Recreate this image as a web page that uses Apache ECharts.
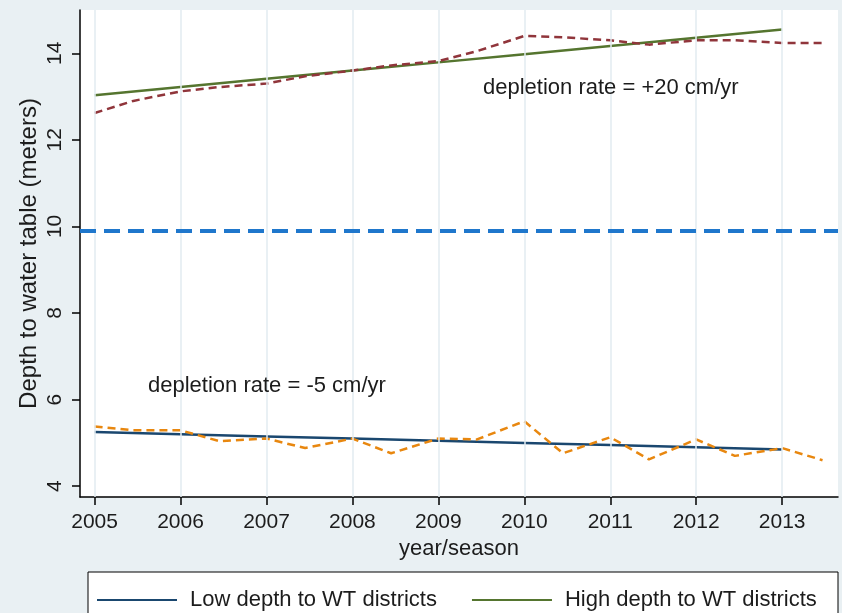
<!DOCTYPE html>
<html>
<head>
<meta charset="utf-8">
<script src="https://cdn.jsdelivr.net/npm/echarts@6/dist/echarts.min.js"></script>
<style>
  html, body { margin: 0; padding: 0; background: #e9f0f3; }
  #chart { width: 842px; height: 613px; }
</style>
</head>
<body>
<div id="chart"></div>
<script>
// Tick positions on the two axes
const yearTicks = [2005, 2006, 2007, 2008, 2009, 2010, 2011, 2012, 2013];
const depthTicks = [4, 6, 8, 10, 12, 14];

// Seasonal observations (two seasons per year)
const seasons = [2005, 2005.45, 2006, 2006.45, 2007, 2007.45, 2008, 2008.45, 2009, 2009.45,
                 2010, 2010.45, 2011, 2011.45, 2012, 2012.45, 2013, 2013.47];
const highDepthSeasonal = [12.62, 12.90, 13.12, 13.22, 13.30, 13.47, 13.60, 13.72, 13.82, 14.05,
                           14.40, 14.37, 14.30, 14.20, 14.30, 14.30, 14.24, 14.24];
const lowDepthSeasonal = [5.38, 5.29, 5.29, 5.04, 5.10, 4.88, 5.10, 4.76, 5.10, 5.08,
                          5.50, 4.76, 5.13, 4.62, 5.08, 4.70, 4.88, 4.60];

// Fitted trends, one value per year
const highDepthTrend = [13.03, 13.22, 13.41, 13.60, 13.79, 13.98, 14.17, 14.36, 14.55];
const lowDepthTrend = [5.25, 5.20, 5.15, 5.10, 5.05, 5.00, 4.95, 4.90, 4.85];

// Threshold separating low and high depth districts (meters)
const thresholdDepth = [9.9];

const seriesNames = ['Low depth to WT districts', 'High depth to WT districts'];
const notes = ['depletion rate = +20 cm/yr', 'depletion rate = -5 cm/yr'];

const pair = (xs, ys) => xs.map((x, i) => [x, ys[i]]);
const FONT = '"Liberation Sans", Arial, sans-serif';
const TEXT = '#1c1c1c';

const chart = echarts.init(document.getElementById('chart'), null, { renderer: 'canvas' });

chart.setOption({
  backgroundColor: '#e9f0f3',
  animation: false,
  textStyle: { fontFamily: FONT },
  grid: { left: 80, right: 4, top: 10, bottom: 116, backgroundColor: '#ffffff', show: true, borderWidth: 0 },
  xAxis: {
    type: 'value',
    min: 2004.83, max: 2013.65,
    name: 'year/season',
    nameLocation: 'middle',
    nameGap: 41,
    nameMoveOverlap: false,
    nameTextStyle: { fontSize: 22, color: TEXT, fontFamily: FONT },
    axisLine: { show: true, lineStyle: { color: '#000', width: 1.5 } },
    axisTick: { show: true, length: 8, customValues: yearTicks, lineStyle: { color: '#000', width: 1.5 } },
    axisLabel: { customValues: yearTicks, margin: 15, fontSize: 21, color: TEXT, fontFamily: FONT, formatter: v => String(v) },
    splitLine: { show: false }
  },
  yAxis: {
    type: 'value',
    min: 3.75, max: 15,
    name: 'Depth to water table (meters)',
    nameLocation: 'middle',
    nameRotate: 90,
    nameGap: 39,
    nameMoveOverlap: false,
    nameTextStyle: { fontSize: 24, color: TEXT, fontFamily: FONT },
    axisLine: { show: true, lineStyle: { color: '#000', width: 1.5 } },
    axisTick: { show: true, length: 8, customValues: depthTicks, lineStyle: { color: '#000', width: 1.5 } },
    axisLabel: { customValues: depthTicks, rotate: 90, margin: 14, fontSize: 21, color: TEXT, fontFamily: FONT },
    splitLine: { show: false }
  },
  legend: {
    data: seriesNames,
    left: 92,
    top: 584,
    icon: 'rect',
    itemWidth: 80,
    itemHeight: 2,
    itemGap: 35,
    z: 10,
    textStyle: { fontSize: 22, color: TEXT, fontFamily: FONT, padding: [0, 0, 0, 8] }
  },
  graphic: [
    { type: 'rect', z: -1, silent: true, shape: { x: 88, y: 572, width: 750, height: 60 },
      style: { fill: '#ffffff', stroke: '#000', lineWidth: 1 } },
    { type: 'text', z: 10, x: 483, y: 88,
      style: { text: notes[0], fill: TEXT, font: '22px ' + FONT, verticalAlign: 'middle' } },
    { type: 'text', z: 10, x: 148, y: 386,
      style: { text: notes[1], fill: TEXT, font: '22px ' + FONT, verticalAlign: 'middle' } }
  ],
  series: [
    {
      // vertical grid lines at each year
      type: 'line', name: 'grid', data: [], silent: true,
      markLine: {
        silent: true, symbol: 'none', label: { show: false },
        lineStyle: { color: '#e2ebf0', width: 1.5, type: 'solid' },
        data: yearTicks.map(y => ({ xAxis: y }))
      },
      z: 1
    },
    {
      name: seriesNames[0], type: 'line', data: pair(yearTicks, lowDepthTrend),
      symbol: 'none', lineStyle: { color: '#1a476f', width: 2.5 }, itemStyle: { color: '#1a476f' }, z: 3
    },
    {
      name: seriesNames[1], type: 'line', data: pair(yearTicks, highDepthTrend),
      symbol: 'none', lineStyle: { color: '#55752f', width: 2.5 }, itemStyle: { color: '#55752f' }, z: 3
    },
    {
      name: 'high seasonal', type: 'line', data: pair(seasons, highDepthSeasonal),
      symbol: 'none', lineStyle: { color: '#90353b', width: 2.5, type: [8, 5] }, z: 4
    },
    {
      name: 'low seasonal', type: 'line', data: pair(seasons, lowDepthSeasonal),
      symbol: 'none', lineStyle: { color: '#e8870f', width: 2.5, type: [8, 5] }, z: 4
    },
    {
      name: 'threshold', type: 'line', data: [], silent: true,
      markLine: {
        silent: true, symbol: 'none', label: { show: false },
        lineStyle: { color: '#1f77cc', width: 4, type: [16, 8] },
        data: thresholdDepth.map(v => ({ yAxis: v }))
      },
      z: 5
    }
  ]
});
</script>
</body>
</html>
